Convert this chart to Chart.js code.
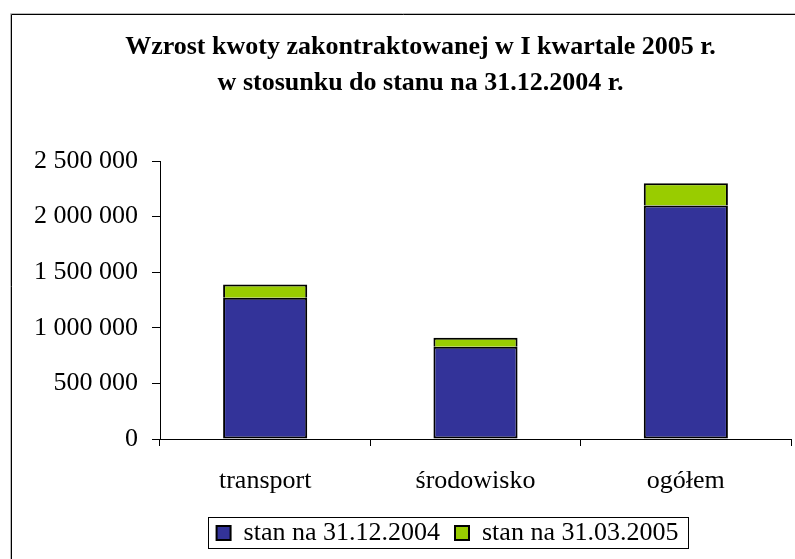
<!DOCTYPE html>
<html lang="pl">
<head>
<meta charset="utf-8">
<title>Wzrost kwoty zakontraktowanej</title>
<script src="https://cdn.jsdelivr.net/npm/chart.js@4"></script>
<style>
  html, body { margin: 0; padding: 0; background: #fff; }
  #wrap { width: 795px; height: 559px; }
</style>
</head>
<body>
<div id="wrap"><canvas id="chart" width="795" height="559"></canvas></div>
<script>
// --- DATA ---
const categories = ['transport', 'środowisko', 'ogółem'];
const seriesNames = ['stan na 31.12.2004', 'stan na 31.03.2005'];
const stan2004 = [1270000, 830000, 2100000];
const przyrost2005 = [120000, 80000, 200000];
const yTicks = [0, 500000, 1000000, 1500000, 2000000, 2500000];
const titleLines = ['Wzrost kwoty zakontraktowanej w I kwartale 2005 r.', 'w stosunku do stanu na 31.12.2004 r.'];

// --- STYLE ---
const SERIF = '"Liberation Serif", "Times New Roman", serif';
const BLUE = '#333399';
const GREEN = '#99CC00';
const TITLE_SHIFT = 25;
const LEGEND_SHIFT = 52;

const fmt = v => String(v).replace(/\B(?=(\d{3})+(?!\d))/g, ' ');

// white page + outer frame (top and left edges only, like the source)
const framePlugin = {
    id: 'frame',
    beforeDraw(chart) {
        const ctx = chart.ctx;
        ctx.save();
        ctx.fillStyle = '#fff';
        ctx.fillRect(0, 0, chart.width, chart.height);
        ctx.strokeStyle = '#bbb';
        ctx.lineWidth = 1;
        ctx.beginPath();
        ctx.moveTo(10.5, chart.height); ctx.lineTo(10.5, 13.5); ctx.lineTo(chart.width, 13.5);
        ctx.stroke();
        ctx.strokeStyle = '#000';
        ctx.beginPath();
        ctx.moveTo(11.5, chart.height); ctx.lineTo(11.5, 14.5); ctx.lineTo(chart.width, 14.5);
        ctx.stroke();
        ctx.restore();
    }
};

// title and legend are not centred on the canvas in the source; nudge them, box the legend
const boxesPlugin = {
    id: 'legendBox',
    afterLayout(chart) {
        chart.titleBlock.left += TITLE_SHIFT;
        chart.titleBlock.right += TITLE_SHIFT;
        chart.legend.left += LEGEND_SHIFT;
        chart.legend.right += LEGEND_SHIFT;
    },
    afterDraw(chart) {
        const boxes = chart.legend.legendHitBoxes;
        if (!boxes || !boxes.length) return;
        const l = Math.min(...boxes.map(b => b.left));
        const r = Math.max(...boxes.map(b => b.left + b.width));
        const t = Math.min(...boxes.map(b => b.top));
        const b = Math.max(...boxes.map(b => b.top + b.height));
        const ctx = chart.ctx;
        ctx.save();
        ctx.strokeStyle = '#000';
        ctx.lineWidth = 1;
        ctx.strokeRect(Math.round(l - 9) + 0.5, Math.round(t - 3) + 0.5, Math.round(r - l + 18), Math.round(b - t + 5));
        ctx.restore();
    }
};

new Chart(document.getElementById('chart'), {
    type: 'bar',
    data: {
        labels: categories,
        datasets: [
            { label: seriesNames[0], data: stan2004, backgroundColor: BLUE, borderColor: '#000', borderWidth: 2, borderSkipped: false },
            { label: seriesNames[1], data: przyrost2005, backgroundColor: GREEN, borderColor: '#000', borderWidth: 2, borderSkipped: 'start' }
        ]
    },
    options: {
        responsive: false,
        animation: false,
        layout: { padding: { top: 15, left: 0, right: 4, bottom: 3 } },
        datasets: { bar: { categoryPercentage: 1, barPercentage: 0.4 } },
        plugins: {
            title: {
                display: true,
                text: titleLines,
                color: '#000',
                font: { family: SERIF, size: 26, weight: 'bold', lineHeight: 36 / 26 },
                padding: { top: 14, bottom: 60 }
            },
            legend: {
                position: 'bottom',
                labels: {
                    color: '#000',
                    font: { family: SERIF, size: 26 },
                    boxWidth: 14,
                    boxHeight: 14,
                    padding: 15
                }
            },
            tooltip: { enabled: false }
        },
        scales: {
            x: {
                stacked: true,
                grid: { drawOnChartArea: false, drawTicks: true, tickLength: 7, color: '#000', offset: true },
                border: { display: true, color: '#000', width: 1 },
                ticks: { color: '#000', font: { family: SERIF, size: 26 }, padding: 20 },
                afterFit(scale) { scale.height = 66; }
            },
            y: {
                stacked: true,
                min: 0,
                max: 2500000,
                grid: { drawOnChartArea: false, drawTicks: true, tickLength: 8, color: '#000' },
                border: { display: true, color: '#000', width: 1 },
                ticks: { color: '#000', font: { family: SERIF, size: 26 }, padding: 14, callback: v => fmt(v) },
                afterBuildTicks(scale) { scale.ticks = yTicks.map(v => ({ value: v })); },
                afterFit(scale) { scale.width = 160; }
            }
        }
    },
    plugins: [framePlugin, boxesPlugin]
});
</script>
</body>
</html>
